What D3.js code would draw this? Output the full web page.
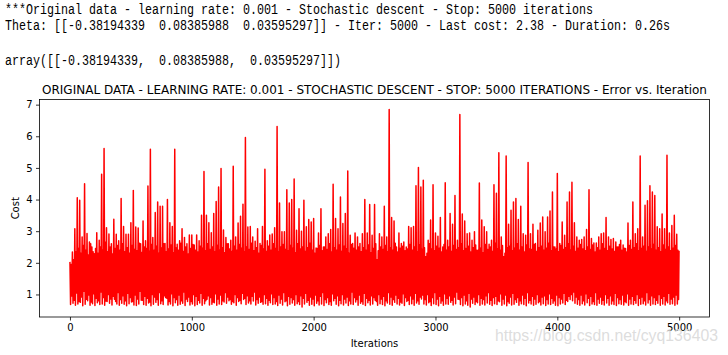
<!DOCTYPE html>
<html><head><meta charset="utf-8">
<script src="https://cdn.jsdelivr.net/npm/d3@7"></script>
<style>body{margin:0;background:#fff}svg{display:block}</style>
</head><body><svg id="c" width="728" height="355"></svg>
<script>
// ---------- data ----------
const headerLines = [
  "***Original data - learning rate: 0.001 - Stochastic descent - Stop: 5000 iterations",
  "Theta: [[-0.38194339  0.08385988  0.03595297]] - Iter: 5000 - Last cost: 2.38 - Duration: 0.26s"
];
const arrayLine = "array([[-0.38194339,  0.08385988,  0.03595297]])";
const chartTitle = "ORIGINAL DATA - LEARNING RATE: 0.001 - STOCHASTIC DESCENT - STOP: 5000 ITERATIONS - Error vs. Iteration";
const xLabel = "Iterations";
const yLabel = "Cost";
const watermark = "https://blog.csdn.net/cyq136403";
const xTicks = [0, 1000, 2000, 3000, 4000, 5000];
const yTicks = [1, 2, 3, 4, 5, 6, 7];
const totalIterations = 5000;
const sampleStep = 5;   // iterations between successive read values

// spikes of the cost, one per 20 iterations
const peakCost = [
  2.03,2.34,3.08,4.06,3.98,2.82,4.50,2.93,2.66,2.50,2.29,2.95,2.71,4.80,5.61,3.11,2.91,2.60,3.38,2.90,
  2.70,4.03,3.15,2.90,2.90,3.27,4.29,3.13,3.10,2.60,3.32,2.70,4.43,5.59,2.80,3.59,3.92,3.79,3.79,2.61,
  4.00,3.27,3.15,5.59,2.59,2.70,3.08,2.80,2.60,2.88,2.88,2.56,2.88,2.70,3.50,4.89,3.50,3.27,2.95,3.56,
  3.94,4.40,4.98,3.04,2.80,2.60,2.71,5.05,2.82,3.26,3.47,3.85,5.96,3.13,3.15,2.82,2.68,3.08,2.61,3.15,
  4.96,2.70,2.88,2.91,3.11,6.31,3.89,2.98,2.98,4.31,3.89,4.00,4.65,3.03,3.71,3.00,3.98,3.14,3.37,3.29,
  3.40,2.47,2.94,3.71,2.50,2.82,2.92,3.05,4.48,3.40,3.08,4.08,3.24,3.56,4.90,2.87,2.61,2.94,2.82,2.61,
  2.92,4.00,2.94,3.84,2.87,3.84,2.10,2.92,2.82,3.79,2.82,6.85,3.43,3.32,2.50,2.94,2.61,2.66,2.50,3.15,
  3.11,3.15,4.44,5.01,4.40,4.61,2.19,2.71,3.35,4.47,2.94,2.84,3.43,2.50,4.53,2.71,3.56,3.22,4.13,2.71,
  6.69,3.54,3.32,2.92,2.94,2.71,2.98,2.40,4.52,3.35,3.14,2.98,2.59,2.71,4.47,4.20,5.48,2.82,2.19,5.38,
  3.22,3.66,3.92,4.03,3.37,3.79,2.92,2.87,5.17,2.92,3.22,2.61,3.03,3.26,3.45,2.98,3.45,3.64,4.24,2.50,
  4.82,2.61,3.29,2.87,3.92,4.24,4.55,3.27,2.82,2.71,2.74,2.82,3.05,4.31,2.77,2.63,2.63,2.82,2.92,2.94,
  3.43,2.82,2.74,2.77,2.66,2.50,2.71,2.56,2.45,3.26,2.71,3.92,2.92,3.08,5.38,2.82,3.82,3.96,4.44,4.24,
  4.13,3.14,3.08,3.54,3.08,5.40,2.94,3.18,3.50,2.90
];
// lowest dips of the cost, one per 20 iterations
const troughCost = [
  0.68,0.72,0.66,0.70,0.75,0.64,0.69,0.80,0.66,0.71,0.65,0.74,0.68,0.70,0.66,0.78,0.72,0.67,0.85,0.70,
  0.66,0.72,0.69,0.64,0.71,0.76,0.67,0.65,0.70,0.82,0.68,0.66,0.73,0.64,0.69,0.75,0.66,0.71,0.68,0.90,
  0.67,0.70,0.64,0.74,0.66,0.69,0.72,0.65,0.78,0.67,0.70,0.64,0.68,0.73,0.66,0.71,0.85,0.67,0.69,0.74,
  0.66,0.70,0.68,0.76,0.72,0.80,0.69,0.74,0.66,0.78,0.71,0.84,0.68,0.73,0.70,0.79,0.67,0.72,0.75,0.69,
  0.71,0.66,0.74,0.68,0.70,0.65,0.72,0.67,0.77,0.64,0.69,0.73,0.66,0.71,0.68,0.60,0.70,0.75,0.66,0.69,
  0.64,0.72,0.67,0.70,0.65,0.74,0.68,0.66,0.80,0.69,0.64,0.71,0.67,0.73,0.65,0.70,0.68,0.76,0.66,0.72,
  0.69,0.65,0.74,0.67,0.70,0.82,0.66,0.71,0.68,0.64,0.73,0.69,0.66,0.75,0.70,0.67,0.72,0.65,0.78,0.68,
  0.71,0.66,0.73,0.69,0.86,0.70,0.67,0.74,0.65,0.71,0.68,0.64,0.72,0.66,0.70,0.69,0.75,0.67,0.71,0.85,
  0.68,0.64,0.70,0.66,0.60,0.72,0.68,0.74,0.66,0.70,0.67,0.73,0.69,0.65,0.71,0.68,0.77,0.66,0.70,0.64,
  0.72,0.67,0.69,0.75,0.66,0.71,0.68,0.64,0.73,0.70,0.66,0.69,0.74,0.67,0.71,0.65,0.70,0.68,0.72,0.66,
  0.64,0.70,0.73,0.68,0.78,0.84,0.80,0.72,0.69,0.66,0.71,0.67,0.74,0.65,0.70,0.68,0.66,0.72,0.69,0.67,
  0.73,0.66,0.70,0.68,0.65,0.71,0.69,0.67,0.74,0.66,0.70,0.68,0.72,0.65,0.69,0.71,0.67,0.73,0.66,0.70,
  0.68,0.72,0.66,0.70,0.67,0.74,0.69,0.71,0.66,0.70
];
// upper edge of the dense band, one per 20 iterations
const bandCost = [
  1.95,2.10,2.35,2.45,2.30,2.55,2.40,2.25,2.60,2.35,2.45,2.30,2.50,2.40,2.65,2.35,2.50,2.28,2.45,2.55,
  2.40,2.60,2.35,2.48,2.30,2.55,2.42,2.38,2.62,2.33,2.50,2.45,2.36,2.58,2.40,2.52,2.30,2.47,2.60,2.35,
  2.44,2.56,2.32,2.48,2.40,2.62,2.36,2.50,2.28,2.45,2.58,2.40,2.34,2.52,2.46,2.38,2.60,2.42,2.50,2.35,
  2.55,2.40,2.48,2.32,2.60,2.44,2.36,2.52,2.40,2.58,2.46,2.34,2.50,2.42,2.62,2.38,2.48,2.30,2.55,2.44,
  2.36,2.52,2.40,2.60,2.45,2.35,2.50,2.58,2.42,2.38,2.55,2.46,2.32,2.60,2.44,2.50,2.36,2.48,2.62,2.40,
  2.30,2.45,2.55,2.38,2.50,2.42,2.60,2.34,2.48,2.40,2.56,2.36,2.52,2.44,2.30,2.58,2.46,2.40,2.50,2.35,
  2.48,2.40,2.56,2.32,2.45,2.60,2.38,2.50,2.42,2.55,2.36,2.48,2.40,2.62,2.34,2.46,2.52,2.38,2.44,2.58,
  2.40,2.50,2.35,2.56,2.42,2.48,2.30,2.60,2.44,2.38,2.52,2.46,2.34,2.58,2.40,2.50,2.36,2.55,2.42,2.48,
  2.60,2.38,2.45,2.52,2.34,2.48,2.56,2.40,2.46,2.32,2.58,2.42,2.50,2.36,2.62,2.44,2.40,2.55,2.30,2.48,
  2.52,2.38,2.46,2.60,2.40,2.50,2.34,2.56,2.44,2.42,2.58,2.36,2.48,2.52,2.40,2.46,2.62,2.38,2.50,2.44,
  2.35,2.55,2.42,2.48,2.60,2.40,2.52,2.36,2.46,2.58,2.44,2.38,2.50,2.42,2.56,2.34,2.48,2.40,2.60,2.45,
  2.38,2.52,2.44,2.36,2.50,2.58,2.40,2.46,2.34,2.55,2.42,2.48,2.60,2.38,2.45,2.52,2.36,2.50,2.44,2.58,
  2.40,2.48,2.35,2.56,2.42,2.50,2.38,2.46,2.55,2.40
];
// second, shallower dips inside each 20 iterations
const dipCost = [
  0.95,0.82,1.05,0.78,0.92,1.10,0.85,0.98,0.76,1.02,0.88,0.80,1.08,0.90,0.79,1.00,0.86,0.94,0.78,1.06,
  0.84,0.96,0.80,1.04,0.90,0.78,0.98,0.86,1.10,0.82,0.94,0.88,0.76,1.00,0.92,0.84,1.06,0.80,0.96,0.88,
  0.78,1.02,0.90,0.84,0.98,0.80,1.08,0.86,0.92,0.78,1.00,0.94,0.82,1.04,0.88,0.80,0.96,0.90,0.76,1.02,
  0.86,0.98,0.80,1.06,0.92,0.84,0.78,1.00,0.90,0.82,1.04,0.88,0.96,0.80,0.94,1.08,0.84,0.92,0.78,1.00,
  0.88,0.82,1.02,0.90,0.78,0.98,0.86,1.06,0.80,0.94,0.90,0.84,1.00,0.78,0.96,0.88,1.04,0.82,0.92,0.86,
  0.98,0.80,0.94,1.06,0.84,0.90,0.78,1.02,0.88,0.96,0.82,1.00,0.86,0.92,0.80,1.08,0.90,0.84,0.98,0.78,
  1.04,0.88,0.82,0.96,0.90,0.78,1.00,0.86,0.94,0.80,1.06,0.92,0.84,0.98,0.88,0.76,1.02,0.90,0.82,0.96,
  0.86,1.04,0.80,0.92,0.98,0.84,1.00,0.78,0.90,1.06,0.86,0.94,0.80,1.02,0.88,0.96,0.82,0.92,1.08,0.84,
  0.90,0.98,0.80,1.04,0.86,0.92,0.78,1.00,0.88,0.84,0.96,1.06,0.82,0.90,0.94,0.80,1.02,0.86,0.98,0.78,
  0.92,1.04,0.84,0.90,0.80,0.98,0.88,1.06,0.82,0.94,0.86,1.00,0.78,0.92,0.96,0.84,1.02,0.88,0.80,0.98,
  0.90,0.86,1.04,0.82,0.94,1.00,1.08,0.92,0.84,0.98,0.80,1.02,0.88,0.94,0.78,1.06,0.86,0.92,0.82,1.00,
  0.88,0.96,0.80,1.04,0.90,0.84,0.98,0.78,1.02,0.86,0.94,0.82,1.00,0.88,0.92,0.80,1.06,0.84,0.96,0.90,
  0.82,1.00,0.88,0.94,0.80,1.04,0.86,0.92,0.98,0.84
];
const lastCost = 2.38;

// ---------- series ----------
const series = [];
peakCost.forEach((v, i) => {
  const base = i * 4 * sampleStep;
  series.push({ it: base, cost: v });
  series.push({ it: base + sampleStep, cost: troughCost[i] });
  series.push({ it: base + 2 * sampleStep, cost: bandCost[i] });
  series.push({ it: base + 3 * sampleStep, cost: dipCost[i] });
});
series.push({ it: totalIterations - 1, cost: lastCost });

// ---------- layout ----------
const L = 39.5, R = 709.5, T = 99.5, B = 317;
const svg = d3.select("#c");
svg.append("rect").attr("width", 728).attr("height", 355).attr("fill", "#fff");

const xExt = d3.extent(series, d => d.it);
const xPad = (xExt[1] - xExt[0]) * 0.05;
const yExt = d3.extent(series, d => d.cost);
const yPad = (yExt[1] - yExt[0]) * 0.05;
const x = d3.scaleLinear().domain([xExt[0] - xPad, xExt[1] + xPad]).range([L, R]);
const y = d3.scaleLinear().domain([yExt[0] - yPad, yExt[1] + yPad]).range([B, T]);

// header text (monospace, 7px per char)
const mono = svg.append("g").attr("font-family", "'Liberation Mono','DejaVu Sans Mono',monospace")
  .attr("font-size", 14).attr("fill", "#000");
const headerY = [13.5, 30];
headerLines.forEach((s, i) => {
  mono.append("text").attr("x", 5).attr("y", headerY[i]).attr("textLength", s.length * 7)
    .attr("lengthAdjust", "spacingAndGlyphs").attr("xml:space", "preserve").text(s);
});
mono.append("text").attr("x", 5).attr("y", 65).attr("textLength", arrayLine.length * 7)
  .attr("lengthAdjust", "spacingAndGlyphs").attr("xml:space", "preserve").text(arrayLine);

// line
svg.append("clipPath").attr("id", "clip").append("rect")
  .attr("x", L).attr("y", T).attr("width", R - L).attr("height", B - T);
svg.append("path").datum(series)
  .attr("clip-path", "url(#clip)")
  .attr("fill", "none").attr("stroke", "#ff0000").attr("stroke-width", 1.5)
  .attr("stroke-linejoin", "round")
  .attr("d", d3.line().x(d => x(d.it)).y(d => y(d.cost)));

// axes
const font = "'DejaVu Sans', sans-serif";
const xa = svg.append("g").attr("transform", `translate(0,${B})`)
  .call(d3.axisBottom(x).tickValues(xTicks).tickFormat(d3.format("d")).tickSize(3.5).tickPadding(3.5));
const ya = svg.append("g").attr("transform", `translate(${L},0)`)
  .call(d3.axisLeft(y).tickValues(yTicks).tickFormat(d3.format("d")).tickSize(3.5).tickPadding(3.5));
[xa, ya].forEach(a => {
  a.select(".domain").remove();
  a.selectAll("line").attr("stroke", "#000").attr("stroke-width", 0.8);
  a.selectAll("text").attr("font-family", font).attr("font-size", 10).attr("fill", "#000");
});

svg.append("rect").attr("x", L).attr("y", T).attr("width", R - L).attr("height", B - T)
  .attr("fill", "none").attr("stroke", "#000").attr("stroke-width", 0.8);

// labels
svg.append("text").attr("x", (L + R) / 2).attr("y", 347).attr("text-anchor", "middle")
  .attr("font-family", font).attr("font-size", 10).attr("fill", "#000").text(xLabel);
svg.append("text").attr("transform", `translate(18.5,${(T + B) / 2}) rotate(-90)`).attr("text-anchor", "middle")
  .attr("font-family", font).attr("font-size", 10).attr("fill", "#000").text(yLabel);
svg.append("text").attr("x", (L + R) / 2).attr("y", 94).attr("text-anchor", "middle")
  .attr("font-family", font).attr("font-size", 12).attr("fill", "#000").text(chartTitle);

// watermark
svg.append("text").attr("x", 495).attr("y", 341).attr("textLength", 223).attr("lengthAdjust", "spacingAndGlyphs")
  .attr("font-family", "'Liberation Sans', Arial, sans-serif").attr("font-size", 17)
  .attr("fill", "#d9d9d9").attr("fill-opacity", 0.9).text(watermark);
</script></body></html>
